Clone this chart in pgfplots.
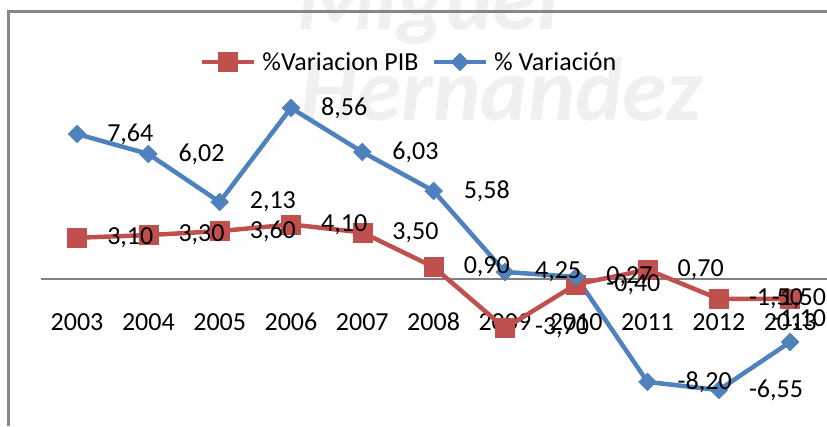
\documentclass[border=0pt]{standalone}
\usepackage{fontspec}
\setmainfont{Carlito}
\usepackage{pgfplots}
\usepackage{pgfplotstable}
\pgfplotsset{compat=1.18}
\definecolor{pibred}{HTML}{C0504D}
\definecolor{varblue}{HTML}{4F81BD}
\definecolor{framegray}{HTML}{878787}
\newcommand\lab{\fontsize{26}{30}\selectfont}

% x = year index (0 = 2003), y = plotted height, lbl = data label shown
\pgfplotstableread{
x y lbl
0 3.10 3,10
1 3.30 3,30
2 3.60 3,60
3 4.10 4,10
4 3.50 3,50
5 0.90 0,90
6 -3.70 -3,70
7 -0.40 -0,40
8 0.70 0,70
9 -1.50 -1,50
10 -1.50 {}
}\pib
\pgfplotstableread{
x y lbl
0 10.90 7,64
1 9.40 6,02
2 5.79 2,13
3 12.86 8,56
4 9.55 6,03
5 6.62 5,58
6 0.53 4,25
7 0.15 0,27
8 -7.74 -8,20
9 -8.35 -6,55
10 -4.74 {}
}\var

\begin{document}
\begin{tikzpicture}
\begin{axis}[
    scale only axis,
    width=827pt, height=426pt,
    xmin=-1.0806, xmax=10.517,
    ymin=-11.053, ymax=20.977,
    axis line style={draw=none},
    major tick length=0pt,
    ytick=\empty,
    xtick={0,...,10},
    xticklabels={2003,2004,2005,2006,2007,2008,2009,2010,2011,2012,2013},
    xticklabel style={font=\lab, anchor=base, yshift=96pt, inner sep=0pt},
    clip=false,
    lbl/.style={forget plot, draw=none, mark=none,
        point meta=explicit symbolic, nodes near coords,
        every node near coord/.append style={font=\lab, text=black, inner sep=0pt, anchor=west, xshift=30pt}},
    lblend/.style={forget plot, draw=none, mark=none,
        point meta=explicit symbolic, nodes near coords,
        every node near coord/.append style={font=\lab, text=black, inner sep=0pt, anchor=east, xshift=36pt, yshift=#1}},
    legend columns=2,
    legend style={draw=none, fill=none, inner sep=0pt, outer sep=0pt,
        at={(0.2418,0.8545)}, anchor=west, font=\lab,
        nodes={inner sep=0pt},
        /tikz/every odd column/.append style={column sep=6pt},
        /tikz/every even column/.append style={column sep=13pt}},
    legend image code/.code={\draw[mark repeat=2,mark phase=2,#1] plot coordinates {(0pt,0pt) (26pt,0pt) (52pt,0pt)};},
]
% faint watermark
\node[font=\fontsize{90}{90}\selectfont\bfseries\itshape, text=black!6, anchor=base west, inner sep=0pt]
    at (rel axis cs:0.363,0.718) {Hernandez};
\node[font=\fontsize{90}{90}\selectfont\bfseries\itshape, text=black!6, anchor=base west, inner sep=0pt]
    at (rel axis cs:0.359,0.93) {Miguel};
% chart frame and zero line
\draw[framegray, line width=3pt] (rel axis cs:0.0097,0) -- (rel axis cs:0.0097,0.973) -- (rel axis cs:1,0.973);
\draw[gray, line width=1.3pt] (axis cs:-0.5,0) -- (axis cs:10.517,0);
\coordinate (bl) at (rel axis cs:0,0);
\coordinate (tr) at (rel axis cs:1,1);

\addplot[pibred, line width=4.5pt, mark=square*, mark size=9.5pt,
    mark options={solid, line width=0.5pt}] table[x=x, y=y] {\pib};
\addlegendentry{\%Variacion PIB}

\addplot[varblue, line width=4.5pt, mark=square*, mark size=6.3pt,
    mark options={solid, rotate=45, line width=0.5pt}] table[x=x, y=y] {\var};
\addlegendentry{\% Variación}

% data labels on top of both lines
\addplot[lbl] table[x=x, y=y, meta=lbl] {\pib};
\addplot[lbl] table[x=x, y=y, meta=lbl] {\var};
% end labels pushed inside the chart edge
\addplot[lblend=0pt] coordinates {(10,-1.50) [-1,50]};
\addplot[lblend=22pt] coordinates {(10,-4.74) [-1,10]};
\end{axis}
\pgfresetboundingbox
\useasboundingbox (bl) rectangle (tr);
\end{tikzpicture}
\end{document}
